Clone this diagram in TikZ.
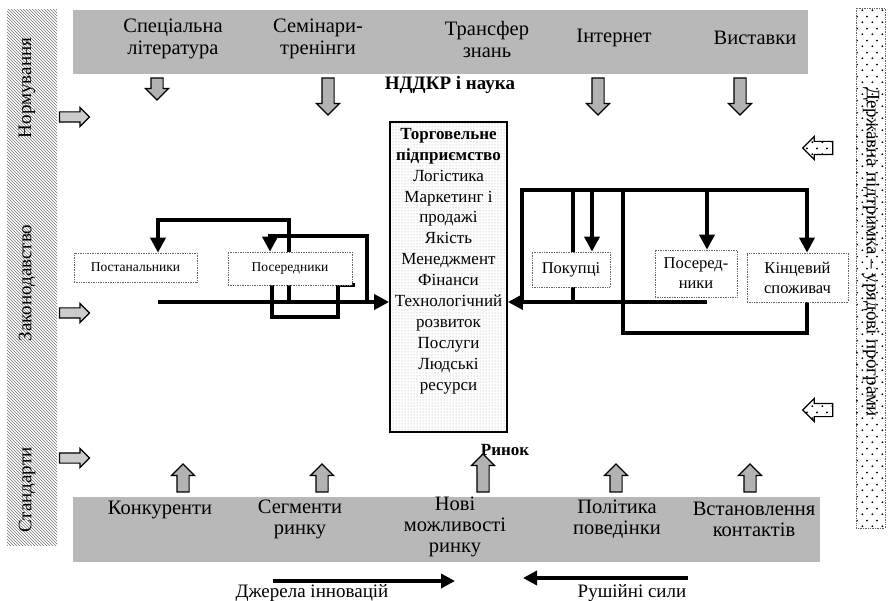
\documentclass[tikz,border=0pt]{standalone}
\usepackage{fontspec}
\setmainfont{Liberation Serif}
\usetikzlibrary{patterns,patterns.meta,shapes.arrows,arrows.meta,backgrounds}
\newcommand\fsz[2]{\fontsize{#1}{#2}\selectfont}
\tikzdeclarepattern{
  name=sparsedots,
  type=uncolored,
  bottom left={(0pt,0pt)},
  top right={(10pt,12pt)},
  tile size={(10pt,12pt)},
  code={\fill (2.5pt,3pt) circle (1.1pt); \fill (7.5pt,9pt) circle (1.1pt);}
}
\tikzset{
  band/.style={fill=black!28, draw=none},
  toptext/.style={font=\fsz{20.5}{22}, align=center, inner sep=0pt},
  bottext/.style={font=\fsz{20.5}{21}, align=center, inner sep=0pt},
  sidetext/.style={font=\fsz{19}{21}, inner sep=0pt},
  entbox/.style={draw=black, line width=1.8pt, preaction={fill=white}, pattern=dots, pattern color=black!35, minimum width=117pt, minimum height=310pt, inner sep=0pt},
  enttext/.style={font=\fsz{17}{20.9}, align=center, inner sep=0pt},
  smallL/.style={draw=black!60, densely dotted, line width=0.7pt, fill=white, font=\fsz{13.5}{16}, align=center, inner sep=0pt},
  smallR/.style={draw=black!60, densely dotted, line width=0.7pt, fill=white, font=\fsz{16.5}{20}, align=center, inner sep=0pt},
  blockarrow/.style={single arrow, draw=black, line width=1.2pt, fill=black!30, inner xsep=0pt, inner ysep=5.5pt, single arrow head extend=5.5pt},
  sidearrowL/.style={single arrow, draw=black, line width=1.2pt, fill=black!20, minimum height=30pt, inner xsep=0pt, inner ysep=4.5pt, single arrow head extend=4.5pt},
  sidearrowR/.style={single arrow, draw=black, line width=1.2pt, preaction={fill=white}, pattern=sparsedots, minimum height=30pt, inner xsep=0pt, inner ysep=6pt, single arrow head extend=5pt, rotate=180},
  wire/.style={line width=3.6pt},
  conn/.style={line width=3.6pt, -{Triangle[length=15pt,width=15pt]}},
  flow/.style={line width=3.4pt, -{Triangle[length=14pt,width=14pt]}},
}
\begin{document}
\begin{tikzpicture}[x=1pt,y=-1pt]
\useasboundingbox (0,0) rectangle (888,601);
% side bars
\path[pattern=north west lines, pattern color=black!55] (7,10) rectangle (57,545);
\path[draw=black!60, densely dotted, line width=0.7pt, preaction={fill=white}, pattern=sparsedots] (856,8) rectangle (885,528);
\node[sidetext, rotate=90] (norm) at (27,88) {Нормування};
\node[sidetext, rotate=90] (zak) at (27,283) {Законодавство};
\node[sidetext, rotate=90] (std) at (27,490) {Стандарти};
\node[sidetext, rotate=-90] (derzh) at (871,252) {Державна підтримка – урядові програми};
% bands
\path[band] (73,10) rectangle (808,74);
\path[band] (73,497) rectangle (820,562);
\node[toptext] (t1) at (173,39) {Спеціальна\\література};
\node[toptext] (t2) at (318,39) {Семінари-\\тренінги};
\node[toptext] (t3) at (487,39) {Трансфер\\знань};
\node[toptext] (t4) at (614,38) {Інтернет};
\node[toptext] (t5) at (755,38) {Виставки};
\node[bottext] (b1) at (160,510) {Конкуренти};
\node[bottext] (b2) at (300,519) {Сегменти\\ринку};
\node[bottext] (b3) at (455,527) {Нові\\можливості\\ринку};
\node[bottext] (b4) at (617,519) {Політика\\поведінки};
\node[bottext] (b5) at (754,519) {Встановлення\\контактів};
% block arrows
\node[blockarrow, rotate=270, minimum height=22pt] (ad1) at (157,86) {};
\node[blockarrow, rotate=270, minimum height=37pt] (ad2) at (328,93.5) {};
\node[blockarrow, rotate=270, minimum height=37pt] (ad3) at (598,93.5) {};
\node[blockarrow, rotate=270, minimum height=37pt] (ad4) at (740,93.5) {};
\node[blockarrow, rotate=90, minimum height=28pt] (au1) at (183,481) {};
\node[blockarrow, rotate=90, minimum height=28pt] (au2) at (322,481) {};
\node[blockarrow, rotate=90, minimum height=38pt] (au3) at (483,476) {};
\node[blockarrow, rotate=90, minimum height=28pt] (au4) at (616,481) {};
\node[blockarrow, rotate=90, minimum height=28pt] (au5) at (750,481) {};
\node[sidearrowL] (al1) at (72,117) {};
\node[sidearrowL] (al2) at (72,313) {};
\node[sidearrowL] (al3) at (72,458) {};
\node[sidearrowR] (ar1) at (821,148) {};
\node[sidearrowR] (ar2) at (821,410) {};
% titles
\node[font=\fsz{19}{21}\bfseries, inner sep=0pt] (nddkr) at (450,85) {НДДКР і наука};
\node[font=\fsz{17}{20}\bfseries, inner sep=0pt] (rynok) at (505,450) {Ринок};
% central enterprise box
\node[entbox] (ent) at (448.5,277) {};
\node[enttext] (enttxt) at (448.5,261) {\textbf{Торговельне}\\\textbf{підприємство}\\Логістика\\Маркетинг і\\продажі\\Якість\\Менеджмент\\Фінанси\\Технологічний\\розвиток\\Послуги\\Людські\\ресурси};
% small boxes
\node[smallL, minimum width=123pt, minimum height=29pt] (post) at (135.5,267.5) {Постанальники};
\node[smallL, minimum width=124pt, minimum height=33pt] (pos1) at (290,268.5) {Посередники};
\node[smallR, minimum width=78pt, minimum height=35pt] (buy) at (571,269.5) {Покупці};
\node[smallR, minimum width=82pt, minimum height=47pt] (pos2) at (696,273.5) {Посеред-\\ники};
\node[smallR, minimum width=101pt, minimum height=49pt] (cons) at (797.5,277.5) {Кінцевий\\споживач};
% helper coordinates
\coordinate (ls) at (158,302);
\coordinate (lj1) at (289,302);
\coordinate (lc1) at (289,220);
\coordinate (lc2) at (158,220);
\coordinate (lj2) at (367,302);
\coordinate (lc3) at (367,236);
\coordinate (lc4) at (270,236);
\coordinate (lp1) at (272,317);
\coordinate (lp2) at (338,317);
\coordinate (lp3) at (338,285);
\coordinate (lp4) at (355,285);
\coordinate (rs) at (707,302);
\coordinate (rj1) at (522,302);
\coordinate (rt1) at (522,190);
\coordinate (rt2) at (807,190);
\coordinate (rv1) at (573,190);
\coordinate (rv1b) at (573,302);
\coordinate (rv2) at (592,190);
\coordinate (rv3) at (623,190);
\coordinate (rb1) at (623,333);
\coordinate (rb2) at (807,333);
\coordinate (rv4) at (707,190);
\coordinate (fl1) at (273,581);
\coordinate (fl2) at (455,581);
\coordinate (fr1) at (688,578);
\coordinate (fr2) at (523,578);
\begin{scope}[on background layer]
% left network
\draw[conn] (ls) -- (ls -| ent.west);
\draw[conn] (lj1) -- (lc1) -- (lc2) -- (lc2 |- post.north);
\draw[conn] (lj2) -- (lc3) -- (lc4) -- (lc4 |- pos1.north);
\draw[wire] (lp1 |- pos1.south) -- (lp1) -- (lp2) -- (lp3) -- (lp4);
% right network
\draw[conn] (rs) -- (rs -| ent.east);
\draw[conn] (rj1) -- (rt1) -- (rt2) -- (rt2 |- cons.north);
\draw[wire] (rv1) -- (rv1b);
\draw[conn] (rv2) -- (rv2 |- buy.north);
\draw[wire] (rv3) -- (rb1) -- (rb2) -- (rb2 |- cons.south);
\draw[conn] (rv4) -- (rv4 |- pos2.north);
\end{scope}
% bottom flows
\draw[flow] (fl1) -- (fl2);
\draw[flow] (fr1) -- (fr2);
\node[font=\fsz{19}{21}, anchor=base, inner sep=0pt] (src) at (312,597) {Джерела інновацій};
\node[font=\fsz{19}{21}, anchor=base, inner sep=0pt] (drv) at (632,597) {Рушійні сили};
\end{tikzpicture}
\end{document}
